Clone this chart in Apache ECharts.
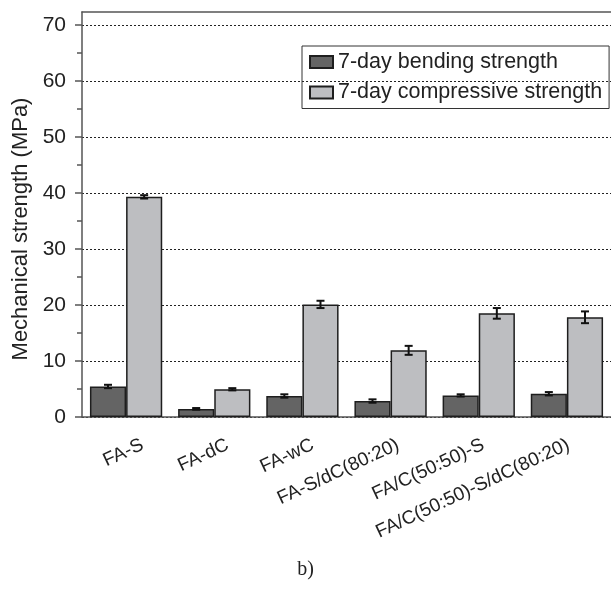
<!DOCTYPE html>
<html style="height: 100%">

<head>
    <meta charset="utf-8">
</head>

<body style="height: 100%; margin: 0">
    <div id="container" style="width: 611px; height: 603px"></div>
    <script src="https://cdn.jsdelivr.net/npm/echarts@6/dist/echarts.min.js"></script>
    <script>
        const categories = ['FA-S', 'FA-dC', 'FA-wC', 'FA-S/dC(80:20)', 'FA/C(50:50)-S', 'FA/C(50:50)-S/dC(80:20)'];
        const bending = [5.45, 1.45, 3.75, 2.85, 3.85, 4.15];
        const bendingErr = [0.3, 0.15, 0.3, 0.3, 0.2, 0.3];
        const compressive = [39.3, 4.95, 20.1, 11.9, 18.5, 17.8];
        const compressiveErr = [0.3, 0.2, 0.65, 0.8, 0.95, 1.05];
        const majorTicks = [0, 10, 20, 30, 40, 50, 60, 70];
        const minorTicks = [5, 15, 25, 35, 45, 55, 65];

        const font = 'Liberation Sans';
        const barShare = 0.82; // 1 - barCategoryGap
        const axisColor = '#555';

        const errorSeries = (name, values, errs, side) => ({
            name: name,
            type: 'custom',
            z: 5,
            clip: false,
            silent: true,
            data: values.map((v, i) => [i, v, errs[i]]),
            renderItem: function (params, api) {
                const band = api.size([1, 0])[0];
                const x = api.coord([api.value(0), 0])[0] + side * band * barShare / 4;
                const hi = api.coord([api.value(0), api.value(1) + api.value(2)])[1];
                const lo = api.coord([api.value(0), api.value(1) - api.value(2)])[1];
                const cap = 4;
                const style = { stroke: '#111', lineWidth: 2 };
                return {
                    type: 'group',
                    children: [
                        { type: 'line', shape: { x1: x, y1: hi, x2: x, y2: lo }, style: style },
                        { type: 'line', shape: { x1: x - cap, y1: hi, x2: x + cap, y2: hi }, style: style },
                        { type: 'line', shape: { x1: x - cap, y1: lo, x2: x + cap, y2: lo }, style: style }
                    ]
                };
            }
        });

        const myChart = echarts.init(document.getElementById('container'));

        const option = {
            animation: false,
            title: {
                text: 'b)',
                left: 'center',
                top: 555,
                textStyle: {
                    fontFamily: 'Liberation Serif',
                    fontWeight: 'normal',
                    fontSize: 20,
                    color: '#222'
                }
            },
            legend: {
                orient: 'vertical',
                left: 302,
                top: 46,
                padding: [5, 7, 5, 7],
                itemWidth: 23,
                itemHeight: 12,
                itemGap: 8.5,
                icon: 'rect',
                borderColor: '#333',
                borderWidth: 1,
                data: ['7-day bending strength', '7-day compressive strength'],
                textStyle: {
                    fontFamily: font,
                    fontSize: 21.5,
                    color: '#222'
                }
            },
            // second grid only carries the rotated category labels, nudged right like the original
            grid: [{
                left: 82,
                top: 12,
                width: 536,
                height: 405
            }, {
                left: 100,
                top: 12,
                width: 536,
                height: 405
            }],
            xAxis: [{
                type: 'category',
                data: categories,
                position: 'bottom',
                axisLine: { lineStyle: { color: axisColor, width: 1.5 } },
                axisTick: { alignWithLabel: true, length: 8, lineStyle: { color: axisColor, width: 1.5 } },
                axisLabel: { show: false }
            }, {
                type: 'category',
                data: categories,
                position: 'bottom',
                axisLine: { show: false },
                axisTick: { length: 4, lineStyle: { color: axisColor, width: 1.5 } },
                axisLabel: { show: false }
            }, {
                type: 'category',
                data: categories,
                position: 'top',
                axisLine: { lineStyle: { color: axisColor, width: 1.5 } },
                axisTick: { show: false },
                axisLabel: { show: false }
            }, {
                type: 'category',
                gridIndex: 1,
                data: categories,
                position: 'bottom',
                axisLine: { show: false },
                axisTick: { show: false },
                axisLabel: {
                    rotate: 25,
                    margin: 27,
                    fontFamily: font,
                    fontSize: 19,
                    color: '#222'
                }
            }],
            yAxis: [{
                type: 'value',
                min: 0,
                max: 72.3,
                interval: 10,
                name: 'Mechanical strength (MPa)',
                nameLocation: 'middle',
                nameGap: 47,
                nameTextStyle: {
                    fontFamily: font,
                    fontSize: 22,
                    color: '#222',
                    padding: [0, 29, 0, 0]
                },
                axisLine: { show: true, lineStyle: { color: axisColor, width: 1.5 } },
                axisTick: { show: true, length: 7, customValues: majorTicks, lineStyle: { color: axisColor, width: 1.5 } },
                axisLabel: {
                    customValues: majorTicks,
                    margin: 16,
                    fontFamily: font,
                    fontSize: 21,
                    color: '#222'
                },
                splitLine: {
                    show: true,
                    lineStyle: { color: '#222', type: [2, 2], width: 1 }
                }
            }, {
                type: 'value',
                min: 0,
                max: 72.3,
                interval: 10,
                position: 'left',
                axisLine: { show: false },
                axisTick: { show: true, length: 5, customValues: minorTicks, lineStyle: { color: axisColor, width: 1.5 } },
                axisLabel: { show: false },
                splitLine: { show: false }
            }, {
                type: 'value',
                gridIndex: 1,
                min: 0,
                max: 1,
                show: false
            }],
            series: [{
                name: '7-day bending strength',
                type: 'bar',
                data: bending,
                barGap: '0%',
                barCategoryGap: '18%',
                itemStyle: { color: '#646464', borderColor: '#1e1e1e', borderWidth: 1.5 }
            }, {
                name: '7-day compressive strength',
                type: 'bar',
                data: compressive,
                barGap: '0%',
                barCategoryGap: '18%',
                itemStyle: { color: '#bdbec1', borderColor: '#1e1e1e', borderWidth: 1.5 }
            },
            errorSeries('bendingErr', bending, bendingErr, -1),
            errorSeries('compressiveErr', compressive, compressiveErr, 1)
            ]
        };

        myChart.setOption(option);
    </script>
</body>

</html>
